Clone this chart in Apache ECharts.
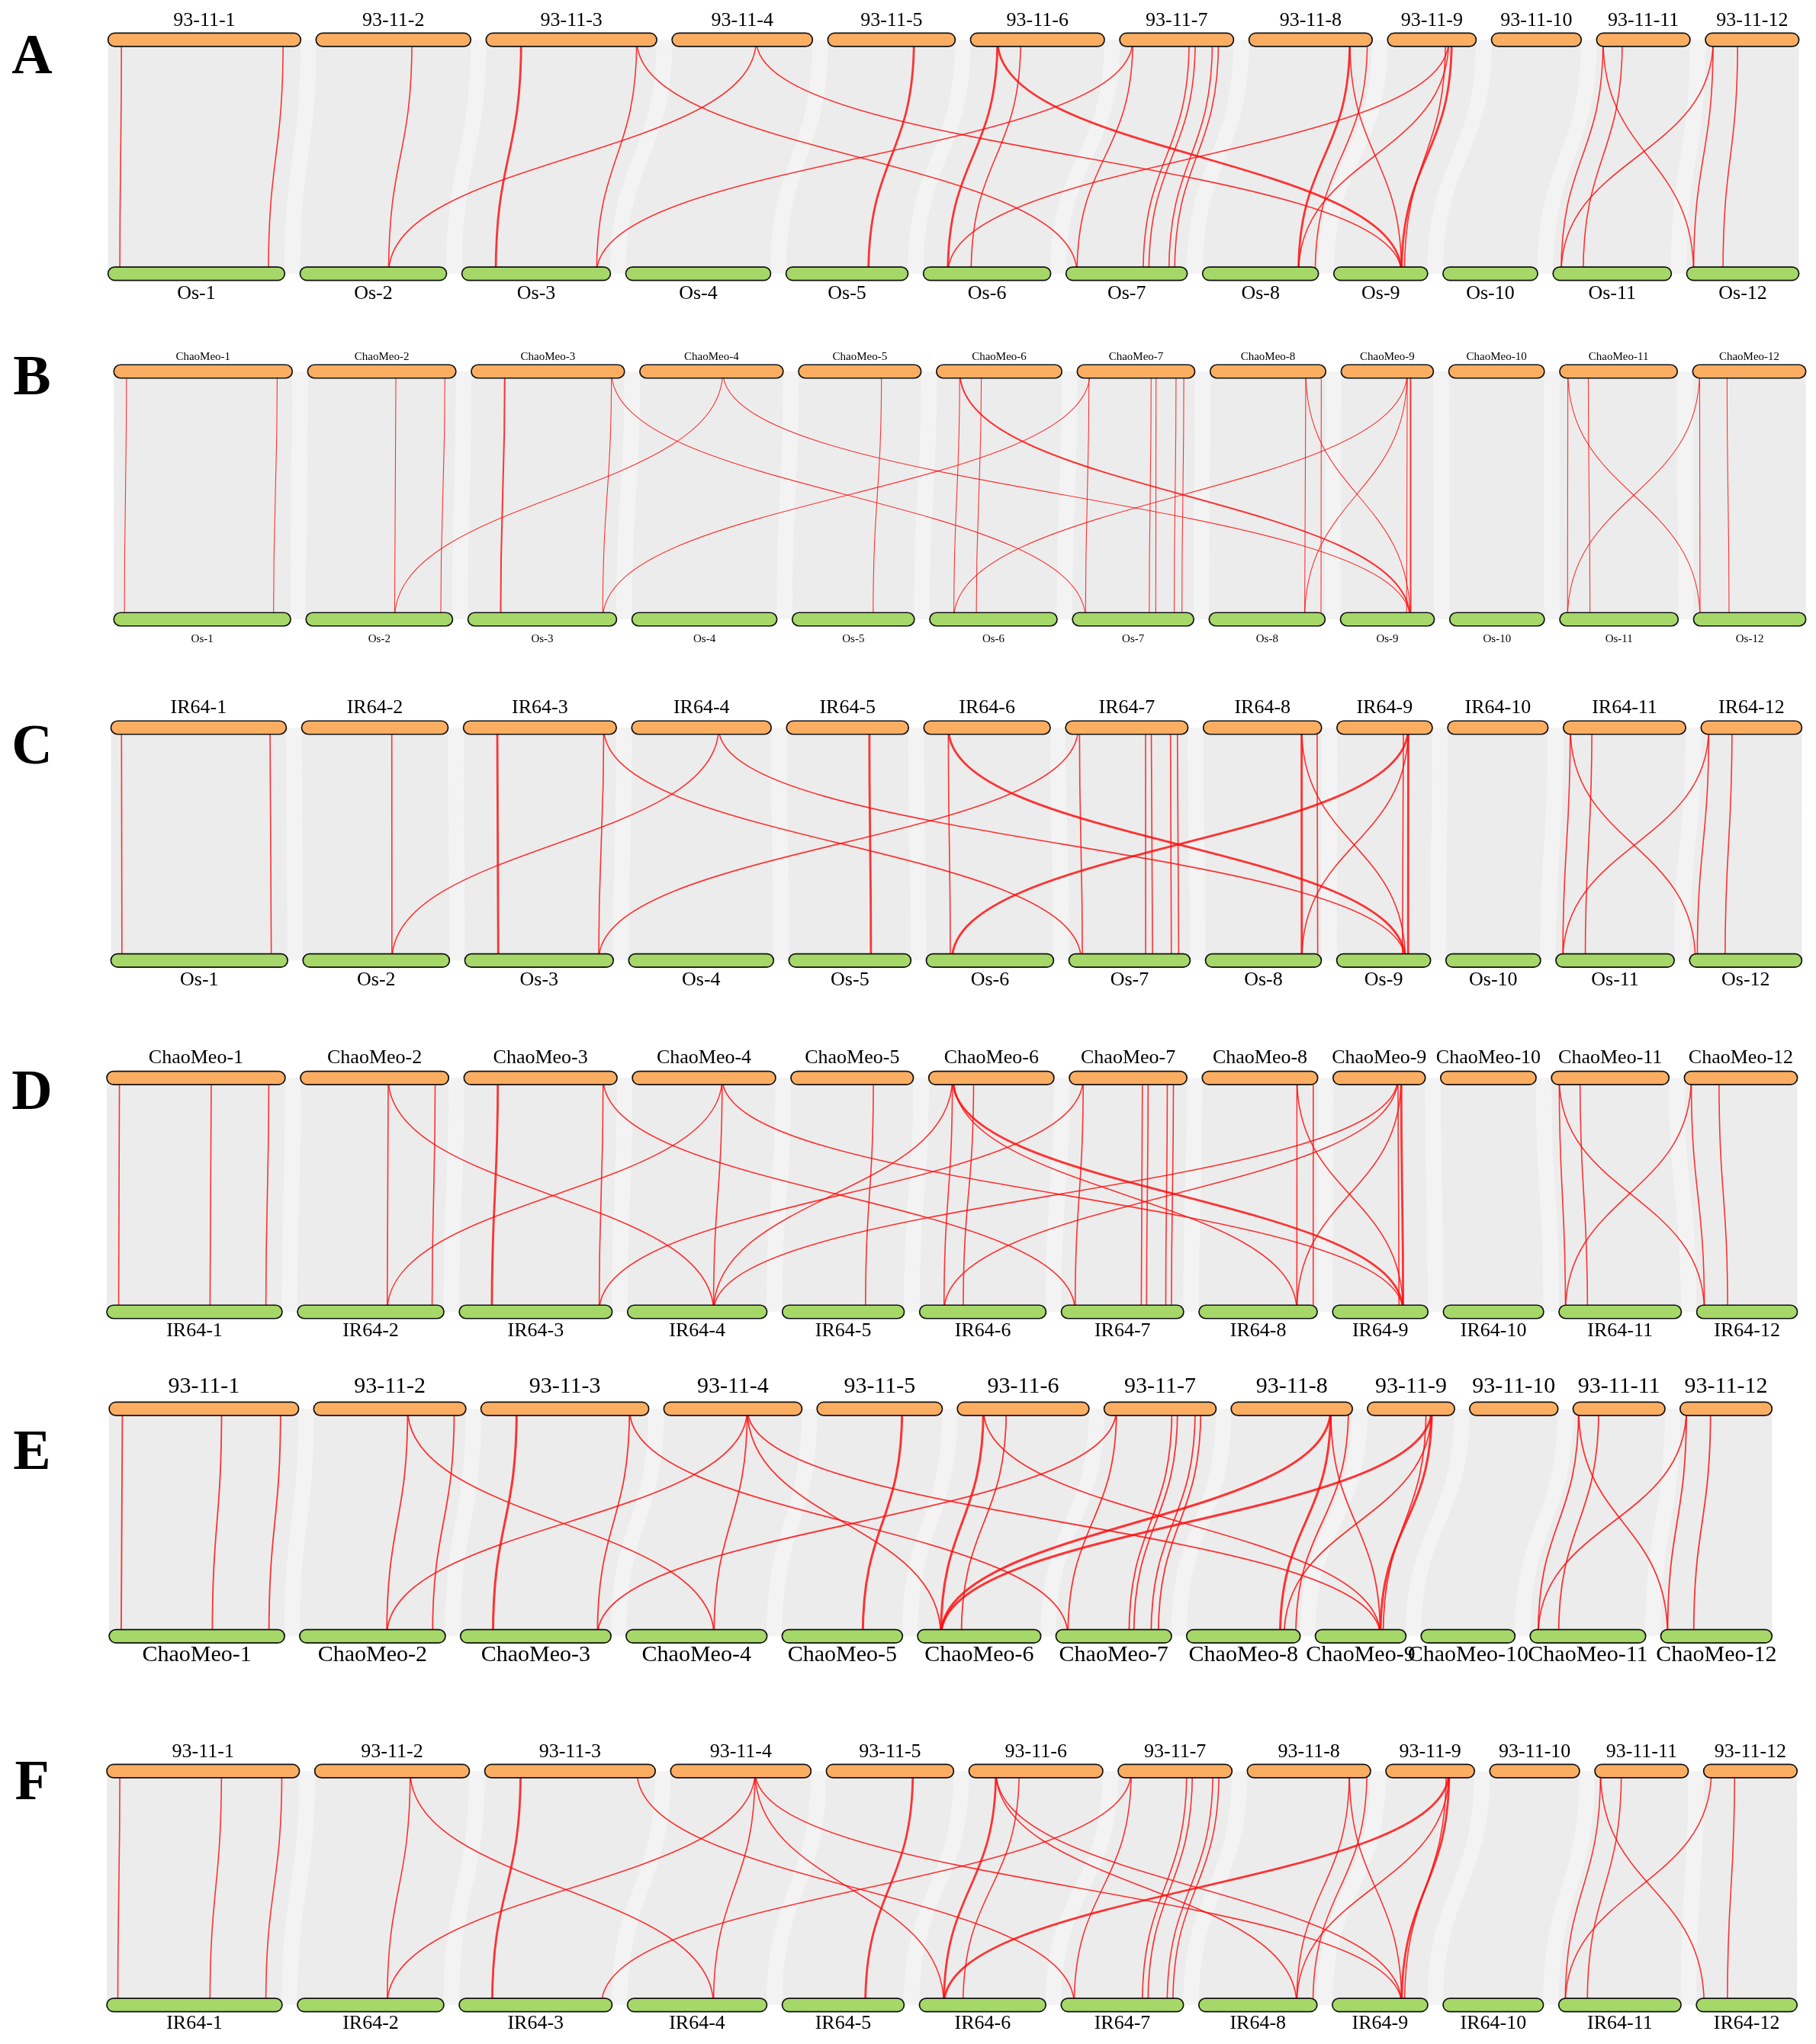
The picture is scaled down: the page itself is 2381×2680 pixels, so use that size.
<!DOCTYPE html>
<html>
<head>
<meta charset="utf-8">
<script src="https://cdn.jsdelivr.net/npm/echarts@6/dist/echarts.min.js"></script>
<style>
  html, body { margin: 0; background: #fff; }
  #chart { width: 2381px; height: 2680px; }
</style>
</head>
<body>
<div id="chart"></div>
<script>
// relative chromosome lengths (Mb)
const osLen   = [43.3, 35.9, 36.4, 35.5, 29.9, 31.2, 29.7, 28.4, 23.0, 23.2, 29.0, 27.5];
const n9311Len = [47.2, 37.9, 41.8, 34.4, 31.2, 32.8, 27.9, 30.2, 21.7, 22.0, 22.9, 22.9];
const chaoLen = [43.7, 36.3, 37.5, 35.1, 30.0, 30.7, 28.8, 28.3, 22.6, 23.4, 28.8, 27.7];
const ir64Len = [43.0, 35.9, 37.5, 34.2, 29.9, 31.0, 30.0, 29.0, 23.4, 24.6, 30.0, 24.7];

const osNames   = ['Os-1','Os-2','Os-3','Os-4','Os-5','Os-6','Os-7','Os-8','Os-9','Os-10','Os-11','Os-12'];
const n9311Names = ['93-11-1','93-11-2','93-11-3','93-11-4','93-11-5','93-11-6','93-11-7','93-11-8','93-11-9','93-11-10','93-11-11','93-11-12'];
const chaoNames = ['ChaoMeo-1','ChaoMeo-2','ChaoMeo-3','ChaoMeo-4','ChaoMeo-5','ChaoMeo-6','ChaoMeo-7','ChaoMeo-8','ChaoMeo-9','ChaoMeo-10','ChaoMeo-11','ChaoMeo-12'];
const ir64Names = ['IR64-1','IR64-2','IR64-3','IR64-4','IR64-5','IR64-6','IR64-7','IR64-8','IR64-9','IR64-10','IR64-11','IR64-12'];

// links: [top chr, top pos (Mb), bottom chr, bottom pos (Mb), weight]
const linksA = [
  [1,3.3,1,2.9,1],[1,42.9,1,39.3,1],[2,23.5,2,21.7,1],[3,8.6,3,8.3,2],[3,36.9,3,33.0,1],
  [3,36.9,7,2.7,1],[4,20.6,2,21.7,1],[4,20.6,9,16.6,1],[7,3.2,3,33.0,1],[5,21.1,5,20.2,2],
  [6,6.6,6,6.0,2],[6,12.3,6,11.7,1],[6,6.6,9,16.6,2],[9,15.0,6,6.0,1],[7,3.2,7,2.7,1],
  [7,17.0,7,18.9,1],[7,18.5,7,20.3,1],[7,22.7,7,25.2,1],[7,24.2,7,26.6,1],[8,24.7,8,23.5,2],
  [8,29.0,8,27.6,1],[8,24.7,9,16.6,1],[9,15.0,8,23.5,1],[9,15.7,9,16.6,2],[9,14.2,9,17.3,1],
  [11,1.6,11,2.0,1],[11,6.3,11,7.4,1],[11,1.6,12,1.7,1],[12,1.9,11,2.0,1],[12,1.9,12,1.7,1],
  [12,7.9,12,8.9,1]
];
const linksB = [
  [1,3.1,1,2.6,1],[1,40.0,1,39.1,1],[2,21.6,2,21.7,1],[2,33.6,2,33.0,1],[3,8.2,3,8.0,2],
  [3,34.3,3,33.0,1],[3,34.3,7,3.2,1],[4,20.3,2,21.7,1],[4,20.3,9,17.1,1],[7,3.2,3,33.0,1],
  [5,20.3,5,19.8,1],[6,5.7,6,5.9,1],[6,11.0,6,11.4,1],[6,5.7,9,17.1,2],[9,16.2,6,5.9,1],
  [7,2.9,7,3.2,1],[7,18.1,7,18.8,1],[7,19.3,7,20.4,1],[7,24.2,7,24.9,1],[7,26.1,7,26.8,1],
  [8,23.4,8,23.4,1],[8,27.2,8,27.4,1],[8,23.4,9,17.1,1],[9,16.2,8,23.4,1],[9,16.2,9,16.2,1],
  [9,17.0,9,17.2,2],[11,2.0,11,1.9,1],[11,7.0,11,7.4,1],[11,2.0,12,1.6,1],[12,1.7,11,1.9,1],
  [12,1.7,12,1.6,1],[12,8.4,12,8.7,1]
];
const linksC = [
  [1,2.6,1,2.7,1],[1,39.0,1,39.3,1],[2,22.1,2,21.8,1],[3,8.3,3,8.2,2],[3,34.4,3,32.8,1],
  [3,34.4,7,3.0,1],[4,21.3,2,21.8,1],[4,21.3,9,16.8,1],[7,3.1,3,32.8,1],[5,20.3,5,20.1,2],
  [6,6.0,6,5.9,1],[6,6.0,9,16.8,2],[9,17.5,6,6.3,2],[7,3.4,7,3.3,1],[7,19.6,7,18.8,1],
  [7,21.0,7,20.5,1],[7,25.7,7,25.1,1],[7,27.4,7,26.9,1],[8,24.1,8,23.6,2],[8,27.9,8,27.5,1],
  [8,24.1,9,16.8,1],[9,17.5,8,23.6,1],[9,17.5,9,17.5,2],[9,16.3,9,16.1,1],[11,1.7,11,1.7,1],
  [11,7.0,11,7.2,1],[11,1.7,12,1.4,1],[12,1.9,11,1.7,1],[12,1.9,12,1.9,1],[12,7.6,12,8.7,1]
];
const linksD = [
  [1,3.1,1,2.9,1],[1,25.6,1,25.3,1],[1,39.7,1,39.0,1],[2,21.5,2,22.0,1],[2,33.0,2,33.0,1],
  [2,21.5,4,21.1,1],[3,8.3,3,8.0,2],[3,34.1,3,34.3,1],[3,34.1,7,3.4,1],[4,22.0,2,22.0,1],
  [4,22.0,4,21.1,1],[4,22.0,9,17.3,1],[7,3.4,3,34.3,1],[6,5.8,4,21.1,1],[9,15.9,4,21.1,1],
  [5,20.2,5,20.4,1],[6,5.8,6,6.0,1],[6,11.0,6,10.7,1],[6,5.8,9,17.3,2],[6,6.1,8,24.0,1],
  [9,15.9,6,6.0,1],[7,3.4,7,3.4,1],[7,17.9,7,19.6,1],[7,19.3,7,20.9,1],[7,24.0,7,25.6,1],
  [7,25.5,7,27.0,1],[8,23.2,8,24.0,1],[8,27.2,8,28.0,1],[8,23.2,9,17.3,1],[9,16.7,8,24.0,1],
  [9,16.7,9,17.3,2],[9,15.9,9,16.3,1],[11,1.9,11,1.6,1],[11,7.0,11,7.0,1],[11,1.9,12,1.9,1],
  [12,1.7,11,1.6,1],[12,1.7,12,1.9,1],[12,8.5,12,7.6,1]
];
const linksE = [
  [1,3.3,1,3.0,1],[1,28.0,1,25.7,1],[1,42.7,1,39.8,1],[2,23.4,2,21.7,1],[2,35.0,2,33.1,1],
  [2,23.4,4,21.9,1],[3,8.9,3,8.1,2],[3,37.0,3,34.1,1],[3,37.0,7,3.0,1],[4,20.8,2,21.7,1],
  [4,20.8,4,21.9,1],[4,20.8,9,16.2,1],[4,20.8,6,5.8,1],[7,3.1,3,34.1,1],[5,21.2,5,20.1,2],
  [6,6.5,6,5.8,2],[6,12.2,6,10.9,1],[6,6.5,9,16.2,1],[7,3.1,7,3.0,1],[7,16.9,7,18.2,1],
  [7,18.3,7,19.4,1],[7,22.7,7,23.7,1],[7,24.1,7,25.5,1],[8,24.8,8,23.3,2],[8,29.2,8,27.2,1],
  [8,24.8,6,5.8,2],[8,24.8,9,16.2,1],[9,16.0,6,5.8,2],[9,16.0,8,24.3,1],[9,16.0,9,16.2,2],
  [9,14.6,9,16.9,1],[11,1.4,11,2.0,1],[11,6.4,11,7.1,1],[11,1.4,12,1.7,1],[12,1.6,11,2.0,1],
  [12,1.6,12,1.7,1],[12,7.6,12,8.2,1]
];
const linksF = [
  [1,3.2,1,2.7,1],[1,28.1,1,25.3,1],[1,42.9,1,39.0,1],[2,23.4,2,22.0,1],[2,23.4,4,21.1,1],
  [3,8.8,3,8.1,2],[3,37.3,7,3.2,1],[4,20.7,2,22.0,1],[4,20.7,4,21.1,1],[4,20.7,9,17.0,1],
  [4,20.7,6,6.0,1],[7,3.2,3,34.9,1],[5,21.2,5,20.4,2],[6,6.6,6,6.0,2],[6,12.3,6,10.7,1],
  [6,6.6,8,24.0,1],[6,6.6,9,17.0,1],[9,15.5,6,6.0,2],[7,3.2,7,3.2,1],[7,16.8,7,19.9,1],
  [7,18.2,7,21.3,1],[7,23.2,7,26.0,1],[7,24.7,7,27.4,1],[8,25.0,8,24.0,1],[8,29.3,8,28.0,1],
  [8,25.0,9,17.0,1],[9,15.5,8,24.0,1],[9,15.5,9,17.0,2],[9,14.8,9,17.7,1],[11,1.4,11,1.6,1],
  [11,6.5,11,7.0,1],[11,1.4,12,1.9,1],[12,1.9,11,1.6,1],[12,7.6,12,7.6,1]
];

const letters = ['A', 'B', 'C', 'D', 'E', 'F'];

const genomes = {
  os: { len: osLen, names: osNames },
  n9311: { len: n9311Len, names: n9311Names },
  chao: { len: chaoLen, names: chaoNames },
  ir64: { len: ir64Len, names: ir64Names }
};

// page layout of each panel, in pixels
const panels = [
  { top: 'n9311', bot: 'os',   links: linksA, x0: 141.6, x1: 2358.6, yT: 52.2,   yB: 358.8,  labT: 26.7,   labB: 385,  font: 26, letterY: 77,   lw: [1.6, 2.8] },
  { top: 'chao',  bot: 'os',   links: linksB, x0: 149.2, x1: 2367.7, yT: 487,    yB: 812,    labT: 467.7,  labB: 838,  font: 15, letterY: 498,  lw: [1.1, 2.0] },
  { top: 'ir64',  bot: 'os',   links: linksC, x0: 145.4, x1: 2362.4, yT: 954,    yB: 1259.3, labT: 928,    labB: 1285, font: 26, letterY: 982,  lw: [1.6, 2.8] },
  { top: 'chao',  bot: 'ir64', links: linksD, x0: 140,   x1: 2356.6, yT: 1413.3, yB: 1720,   labT: 1387,   labB: 1745, font: 26, letterY: 1435, lw: [1.6, 2.8] },
  { top: 'n9311', bot: 'chao', links: linksE, x0: 143.1, x1: 2323.3, yT: 1847.2, yB: 2145.3, labT: 1818,   labB: 2170, font: 30, letterY: 1907, lw: [1.8, 3.0] },
  { top: 'n9311', bot: 'ir64', links: linksF, x0: 140,   x1: 2356.2, yT: 2322.2, yB: 2628.8, labT: 2296.7, labB: 2653, font: 26, letterY: 2340, lw: [1.6, 2.8] }
];

const GAP = 3.75;          // gap between chromosomes, in Mb
const BAR_H = 17.5;
const FONT = '"Liberation Serif", "Times New Roman", serif';

function rowLayout(lens) {
  const total = lens.reduce((a, b) => a + b, 0) + GAP * (lens.length - 1);
  const starts = [];
  let c = 0;
  lens.forEach(l => { starts.push(c); c += l + GAP; });
  return { total, starts, lens };
}
const toAxis = (row, chr, pos) => (row.starts[chr - 1] + pos) / row.total;

const grid = [], xAxis = [], yAxis = [], series = [], graphic = [];

panels.forEach((p, k) => {
  grid.push({ left: p.x0, top: p.yT, width: p.x1 - p.x0, height: p.yB - p.yT });
  xAxis.push({ type: 'value', gridIndex: k, min: 0, max: 1, show: false });
  yAxis.push({ type: 'value', gridIndex: k, min: 0, max: 1, show: false });

  const tg = genomes[p.top], bg = genomes[p.bot];
  const tRow = rowLayout(tg.len), bRow = rowLayout(bg.len);

  const ribbons = tg.len.map((l, i) => [
    toAxis(tRow, i + 1, 0), toAxis(tRow, i + 1, l),
    toAxis(bRow, i + 1, 0), toAxis(bRow, i + 1, bg.len[i])
  ]);
  const gaps = tg.len.slice(0, -1).map((l, i) => [
    toAxis(tRow, i + 1, l), toAxis(tRow, i + 2, 0),
    toAxis(bRow, i + 1, bg.len[i]), toAxis(bRow, i + 2, 0)
  ]);

  const ribbonItem = fill => (params, api) => {
    const tl = api.coord([api.value(0), 1]);
    const tr = api.coord([api.value(1), 1]);
    const bl = api.coord([api.value(2), 0]);
    const br = api.coord([api.value(3), 0]);
    const my = (tl[1] + bl[1]) / 2;
    const d = `M${tl[0]},${tl[1]} L${tr[0]},${tr[1]} C${tr[0]},${my} ${br[0]},${my} ${br[0]},${br[1]} ` +
              `L${bl[0]},${bl[1]} C${bl[0]},${my} ${tl[0]},${my} ${tl[0]},${tl[1]} Z`;
    return { type: 'path', shape: { pathData: d }, style: { fill: fill, stroke: null } };
  };

  series.push({
    type: 'custom', xAxisIndex: k, yAxisIndex: k, z: 1, silent: true,
    renderItem: ribbonItem('#f3f3f3'), data: gaps
  });
  series.push({
    type: 'custom', xAxisIndex: k, yAxisIndex: k, z: 2, silent: true,
    renderItem: ribbonItem('#ececec'), data: ribbons
  });

  // red syntenic links
  series.push({
    type: 'custom', xAxisIndex: k, yAxisIndex: k, z: 3, silent: true,
    data: p.links.map(l => [toAxis(tRow, l[0], l[1]), toAxis(bRow, l[2], l[3]), l[4]]),
    renderItem: (params, api) => {
      const a = api.coord([api.value(0), 1]);
      const b = api.coord([api.value(1), 0]);
      const my = (a[1] + b[1]) / 2;
      return {
        type: 'bezierCurve',
        shape: { x1: a[0], y1: a[1], x2: b[0], y2: b[1], cpx1: a[0], cpy1: my, cpx2: b[0], cpy2: my },
        style: { stroke: 'rgba(255,10,10,0.82)', fill: 'none', lineWidth: api.value(2) > 1 ? p.lw[1] : p.lw[0] }
      };
    }
  });

  // chromosome bars with their names
  const bars = [];
  tg.len.forEach((l, i) => bars.push([1, toAxis(tRow, i + 1, 0), toAxis(tRow, i + 1, l), i]));
  bg.len.forEach((l, i) => bars.push([0, toAxis(bRow, i + 1, 0), toAxis(bRow, i + 1, l), i]));
  series.push({
    type: 'custom', xAxisIndex: k, yAxisIndex: k, z: 4, silent: true,
    data: bars,
    renderItem: (params, api) => {
      const row = api.value(0);
      const a = api.coord([api.value(1), row]);
      const b = api.coord([api.value(2), row]);
      const name = (row ? tg.names : bg.names)[api.value(3)];
      const ty = row ? p.labT : p.labB;
      const labelY = a[1] + (row ? ty - p.yT : ty - p.yB);
      return {
        type: 'group',
        children: [
          { type: 'rect',
            shape: { x: a[0], y: a[1] - BAR_H / 2, width: b[0] - a[0], height: BAR_H, r: BAR_H / 2 },
            style: { fill: row ? '#fbae62' : '#a5d868', stroke: '#111', lineWidth: 1.7 } },
          { type: 'text',
            style: { text: name, x: (a[0] + b[0]) / 2, y: labelY, fill: '#000',
                     fontSize: p.font, fontFamily: FONT, align: 'center', verticalAlign: 'middle' } }
        ]
      };
    }
  });

  graphic.push({
    type: 'text', x: 42, y: p.letterY, z: 10,
    style: { text: letters[k], fill: '#000', font: 'bold 74px ' + FONT, align: 'center', verticalAlign: 'middle' }
  });
});

const chart = echarts.init(document.getElementById('chart'));
chart.setOption({
  animation: false,
  backgroundColor: '#ffffff',
  grid, xAxis, yAxis, series, graphic
});
</script>
</body>
</html>
